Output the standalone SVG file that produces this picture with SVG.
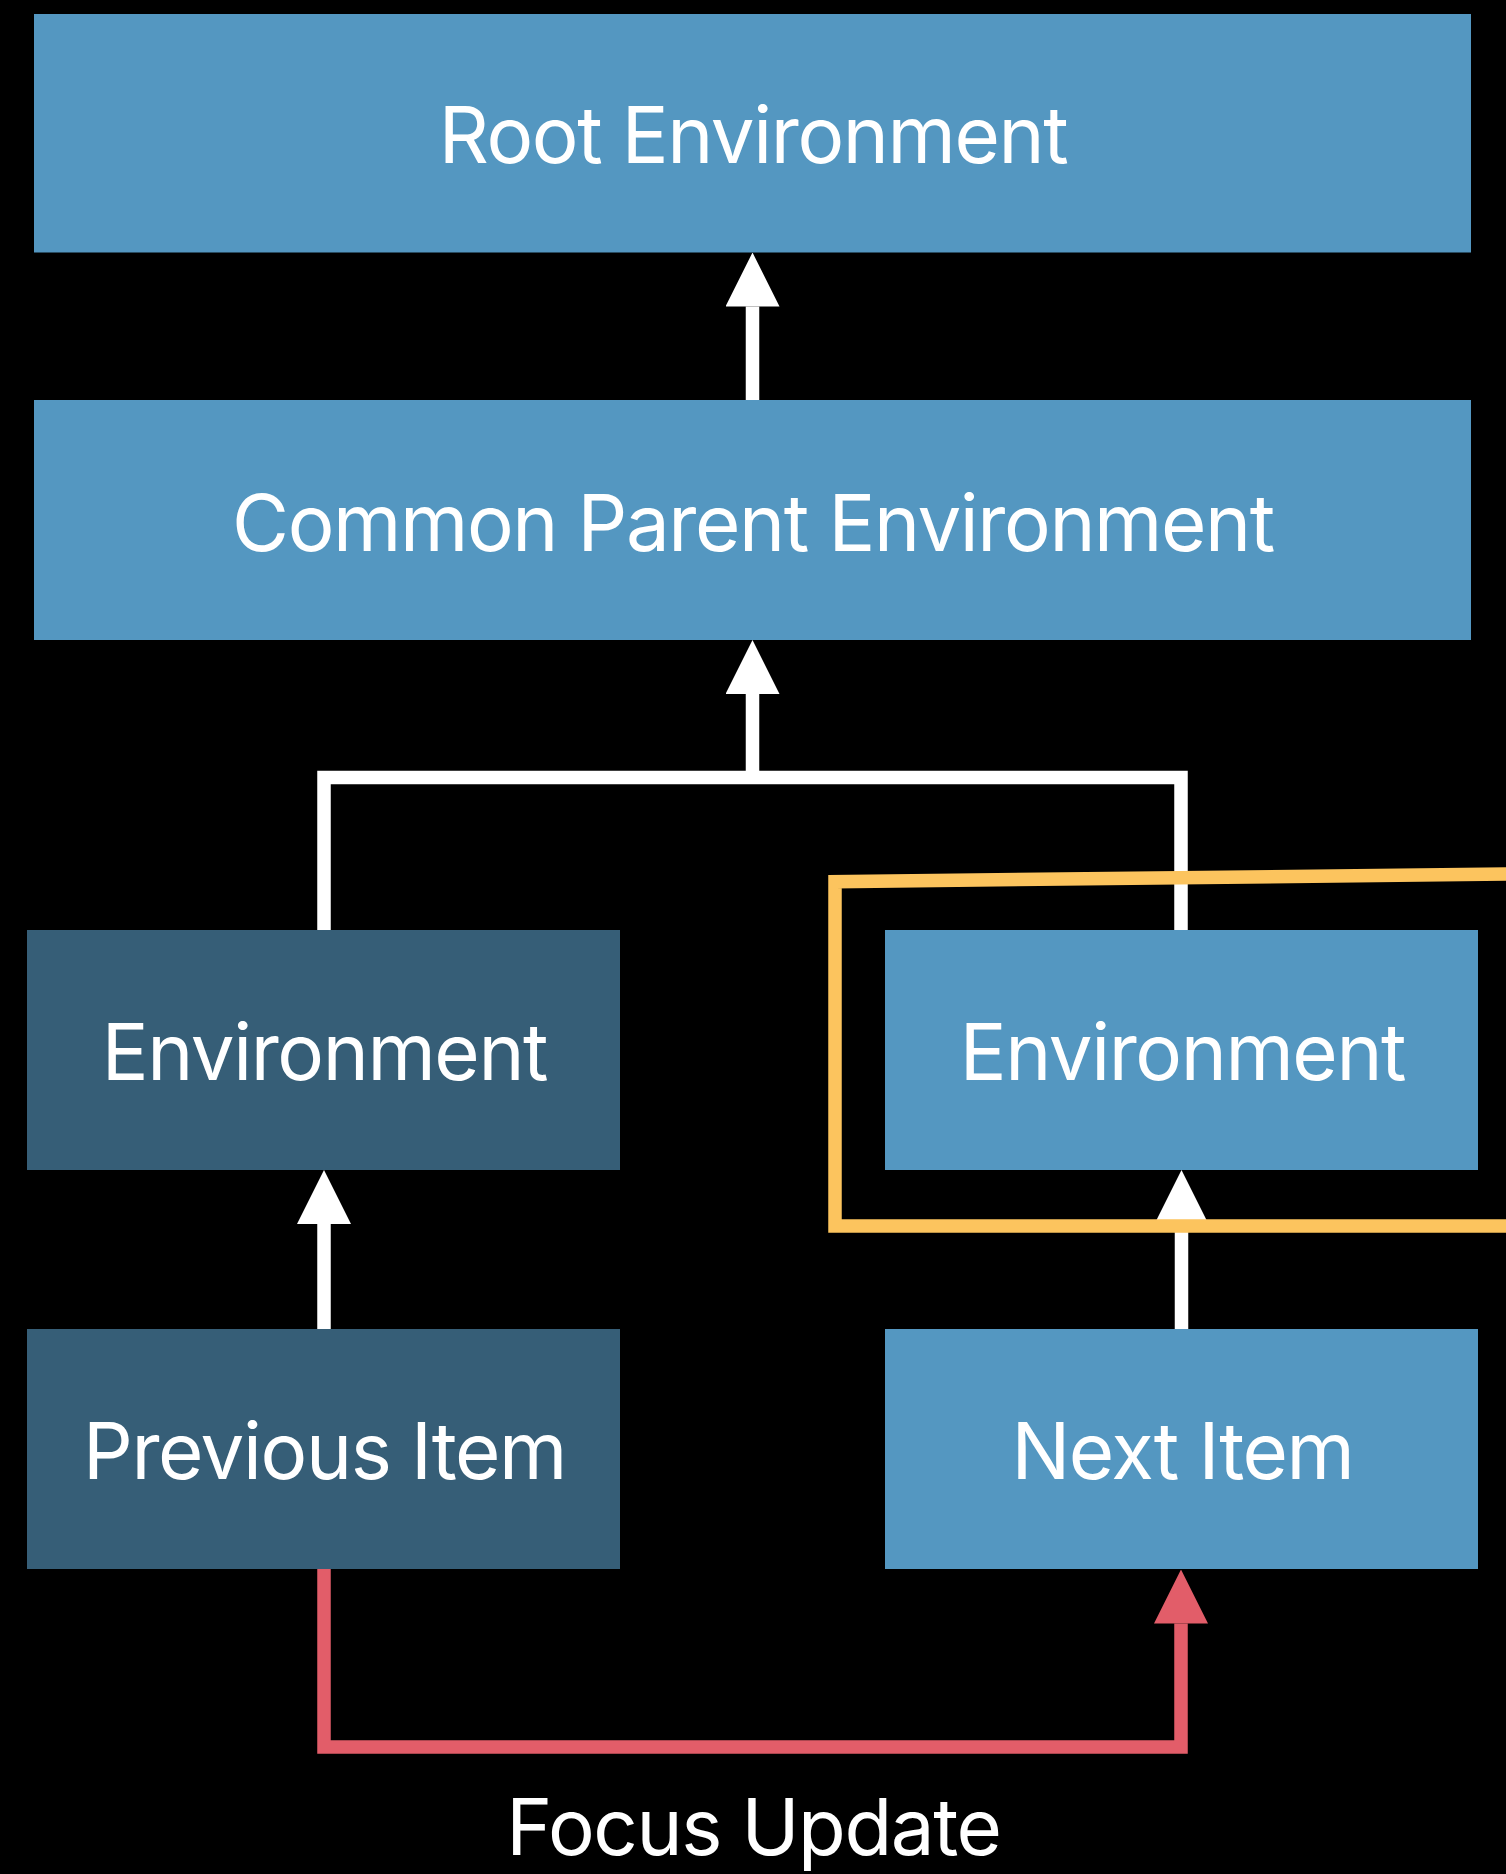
<svg xmlns="http://www.w3.org/2000/svg" width="1506" height="1874" viewBox="0 0 1506 1874">
  <style>
    .blue { fill: #5497C1; }
    .dark { fill: #365E77; }
    .label { font-family: Inter, "Noto Sans", "Liberation Sans", sans-serif; font-size: 78px; letter-spacing: -1.4px; fill: #FFFFFF; text-anchor: middle; }
    .wire { fill: none; stroke: #FFFFFF; stroke-width: 13.5; stroke-linejoin: miter; }
    .red { fill: none; stroke: #E25D69; stroke-width: 13.5; stroke-linejoin: miter; }
    .focus { fill: none; stroke: #FCC45E; stroke-width: 13.5; stroke-linejoin: miter; }
  </style>
  <defs>
    <marker id="headW" markerUnits="userSpaceOnUse" markerWidth="54" markerHeight="54" refX="0" refY="27" orient="auto" viewBox="0 0 54 54">
      <path d="M0,0 L54,27 L0,54 Z" fill="#FFFFFF"/>
    </marker>
    <marker id="headR" markerUnits="userSpaceOnUse" markerWidth="54" markerHeight="54" refX="0" refY="27" orient="auto" viewBox="0 0 54 54">
      <path d="M0,0 L54,27 L0,54 Z" fill="#E25D69"/>
    </marker>
  </defs>
  <rect x="0" y="0" width="1506" height="1874" fill="#000000"/>

  <g id="root-environment">
    <rect class="blue" x="34" y="14" width="1437" height="238.5"/>
    <text class="label" x="753" y="163">Root Environment</text>
  </g>
  <g id="common-parent-environment">
    <rect class="blue" x="34" y="400" width="1437" height="240"/>
    <text class="label" x="753" y="551">Common Parent Environment</text>
  </g>
  <g id="left-environment">
    <rect class="dark" x="27" y="930" width="593" height="240"/>
    <text class="label" x="324.5" y="1079.5">Environment</text>
  </g>
  <g id="right-environment">
    <rect class="blue" x="885" y="930" width="593" height="240"/>
    <text class="label" x="1182.5" y="1079.5">Environment</text>
  </g>
  <g id="previous-item">
    <rect class="dark" x="27" y="1329" width="593" height="240"/>
    <text class="label" x="324.5" y="1478.5">Previous Item</text>
  </g>
  <g id="next-item">
    <rect class="blue" x="885" y="1329" width="593" height="240"/>
    <text class="label" x="1182.5" y="1478.5">Next Item</text>
  </g>

  <g id="connectors">
    <line class="wire" x1="752.5" y1="400" x2="752.5" y2="306.5" marker-end="url(#headW)"/>
    <polyline class="wire" points="324,930 324,777.5 1181,777.5 1181,930"/>
    <line class="wire" x1="752.5" y1="777.5" x2="752.5" y2="694" marker-end="url(#headW)"/>
    <line class="wire" x1="324" y1="1329" x2="324" y2="1224" marker-end="url(#headW)"/>
    <line class="wire" x1="1181.5" y1="1329" x2="1181.5" y2="1224" marker-end="url(#headW)"/>
    <polyline class="red" points="324,1569 324,1747 1181,1747 1181,1623.5" marker-end="url(#headR)"/>
  </g>

  <g id="focus-frame">
    <path class="focus" d="M1520,873.8 L835,881.7 L835,1226 L1520,1226"/>
  </g>

  <g id="focus-update-label">
    <text class="label" x="753.5" y="1855">Focus Update</text>
  </g>
</svg>
